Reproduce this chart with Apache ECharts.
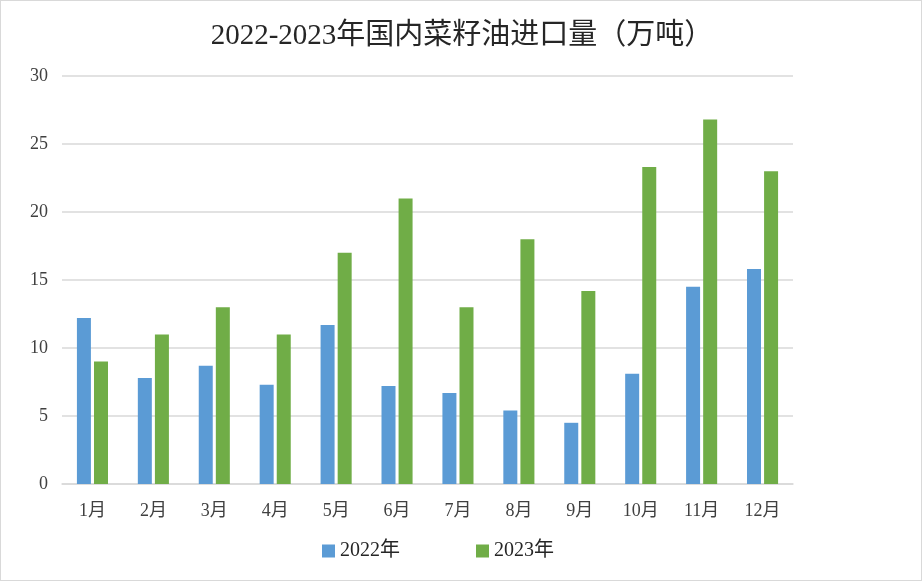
<!DOCTYPE html>
<html>
<head>
<meta charset="utf-8">
<script src="https://cdn.jsdelivr.net/npm/echarts@6/dist/echarts.min.js"></script>
<style>
html,body{margin:0;padding:0;background:#fff;}
#wrap{position:absolute;left:0;top:0;width:920px;height:579px;border:1px solid #d9d9d9;}
#chart{width:924px;height:583px;position:absolute;left:0;top:0;}
</style>
</head>
<body>
<div id="wrap"></div>
<div id="chart"></div>
<script>
const titleText = '2022-2023年国内菜籽油进口量（万吨）';
const categories = ['1月','2月','3月','4月','5月','6月','7月','8月','9月','10月','11月','12月'];
const seriesNames = ['2022年','2023年'];
const values2022 = [12.2, 7.8, 8.7, 7.3, 11.7, 7.2, 6.7, 5.4, 4.5, 8.1, 14.5, 15.8];
const values2023 = [9.0, 11.0, 13.0, 11.0, 17.0, 21.0, 13.0, 18.0, 14.2, 23.3, 26.8, 23.0];
const yMin = 0, yMax = 30, yInterval = 5;

const font = '"Liberation Serif", "Noto Sans CJK SC", serif';
const chart = echarts.init(document.getElementById('chart'), null, {renderer:'canvas'});
chart.setOption({
  backgroundColor: 'transparent',
  animation: false,
  title: {
    text: titleText, left: 'center', top: 17,
    textStyle: {fontFamily: font, fontSize: 29, fontWeight: 'normal', color: '#262626'}
  },
  legend: {
    data: seriesNames, bottom: 17, left: 317, itemGap: 76,
    itemWidth: 13, itemHeight: 13, icon: 'rect',
    textStyle: {fontFamily: font, fontSize: 20, color: '#262626'}
  },
  grid: {left: 62, right: 131, top: 76, bottom: 99, containLabel: false},
  xAxis: {
    type: 'category', data: categories,
    axisLine: {show: true, lineStyle: {color: '#d9d9d9', width: 1.5}},
    axisTick: {show: false},
    axisLabel: {fontFamily: font, fontSize: 18, color: '#404040', margin: 18}
  },
  yAxis: {
    type: 'value', min: yMin, max: yMax, interval: yInterval,
    axisLine: {show: false}, axisTick: {show: false},
    splitLine: {lineStyle: {color: '#d9d9d9', width: 1.5}},
    axisLabel: {fontFamily: font, fontSize: 18, color: '#404040', margin: 14}
  },
  series: [
    {name: seriesNames[0], type: 'bar', data: values2022, barWidth: 14, barGap: '22%',
     itemStyle: {color: '#5B9BD5'}},
    {name: seriesNames[1], type: 'bar', data: values2023, barWidth: 14, barGap: '22%',
     itemStyle: {color: '#70AD47'}}
  ]
});
</script>
</body>
</html>
